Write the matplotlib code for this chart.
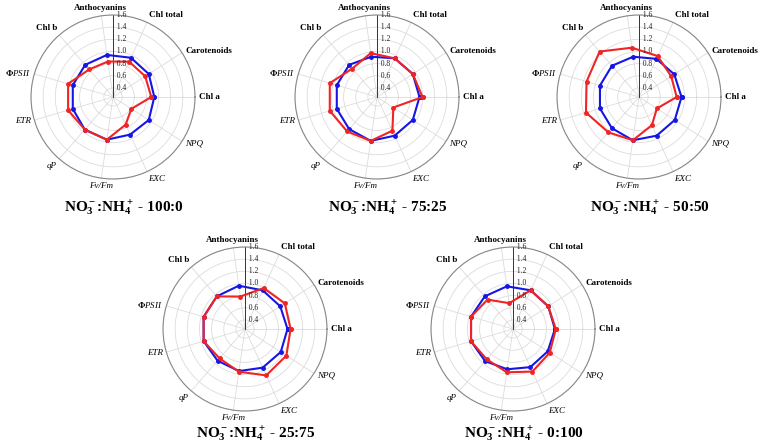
import numpy as np
import matplotlib
matplotlib.use('Agg')
from matplotlib import pyplot as plt

plt.rcParams['font.family'] = 'Liberation Serif'
plt.rcParams['mathtext.fontset'] = 'custom'
plt.rcParams['mathtext.rm'] = 'Liberation Serif:bold'
plt.rcParams['mathtext.it'] = 'Liberation Serif:italic'
plt.rcParams['mathtext.bf'] = 'Liberation Serif:bold'

# variables, counter-clockwise starting at 3 o'clock
variables = ['Chl a', 'Carotenoids', 'Chl total', 'Anthocyanins', 'Chl b',
             r'$\mathit{\Phi PSII}$', 'ETR', 'qP', 'Fv/Fm', 'EXC', 'NPQ']
italic_vars = ['ETR', 'qP', 'Fv/Fm', 'EXC', 'NPQ']

ratios = ['100:0', '75:25', '50:50', '25:75', '0:100']

blue_100_0 = [0.93, 0.95, 0.96, 0.95, 0.95, 0.94, 0.94, 0.96, 0.96, 0.93, 0.95]
red_100_0 = [0.88, 0.88, 0.89, 0.84, 0.85, 1.02, 1.02, 0.96, 0.96, 0.75, 0.61]

blue_75_25 = [0.95, 0.95, 0.95, 0.92, 0.95, 0.94, 0.94, 0.95, 0.98, 0.95, 0.95]
red_75_25 = [1.00, 0.95, 0.95, 0.98, 0.87, 1.06, 1.06, 1.00, 0.98, 0.86, 0.57]

blue_50_50 = [0.95, 0.94, 0.94, 0.92, 0.93, 0.92, 0.92, 0.93, 0.97, 0.95, 0.95]
red_50_50 = [0.87, 0.88, 0.99, 1.07, 1.24, 1.15, 1.16, 1.02, 0.97, 0.76, 0.60]

blue_25_75 = [0.95, 0.94, 0.95, 0.97, 0.96, 0.96, 0.96, 0.94, 0.95, 0.95, 0.95]
red_25_75 = [1.00, 1.03, 0.99, 0.79, 0.96, 0.96, 0.96, 0.89, 0.96, 1.09, 1.06]

blue_0_100 = [0.94, 0.94, 0.95, 0.96, 0.96, 0.97, 0.97, 0.95, 0.92, 0.94, 0.93]
red_0_100 = [0.955, 0.94, 0.95, 0.68, 0.89, 0.97, 0.97, 0.91, 0.97, 1.02, 0.97]

blue_sets = [blue_100_0, blue_75_25, blue_50_50, blue_25_75, blue_0_100]
red_sets = [red_100_0, red_75_25, red_50_50, red_25_75, red_0_100]

rticks = [0.4, 0.6, 0.8, 1.0, 1.2, 1.4, 1.6]
rmin, rmax = 0.25, 1.6

W, H = 771, 445
centers = [(113, 97), (377, 97), (639, 97), (245, 329), (513, 329)]
title_y = [-0.18, -0.18, -0.18, -0.14, -0.14]
R = 82

fig = plt.figure(figsize=(W / 100, H / 100), dpi=100)

theta = np.arange(len(variables)) * 2 * np.pi / len(variables)

for (cx, cy), ty, ratio, blue, red in zip(centers, title_y, ratios, blue_sets, red_sets):
    ax = fig.add_axes([(cx - R) / W, (H - cy - R) / H, 2 * R / W, 2 * R / H],
                      projection='polar')
    ax.set_ylim(rmin, rmax)
    ax.set_xticks(theta)
    ax.set_xticklabels([])
    ax.set_yticks(rticks)
    ax.set_yticklabels([])
    ax.grid(color='#dcdcdc', lw=0.6)
    ax.spines['polar'].set_color('#888888')
    ax.spines['polar'].set_linewidth(0.8)
    ax.tick_params(length=0)

    # radial scale on the vertical axis
    ax.plot([np.pi / 2, np.pi / 2], [rmin, rmax], color='#333333', lw=0.7)
    for v in rticks:
        ax.text(np.pi / 2, v, '  %.1f' % v, ha='left', va='center',
                fontsize=5.5, color='#222222')

    tb = np.append(theta, theta[0])
    ax.plot(tb, blue + blue[:1], color='#1515e6', lw=1.5, marker='o', ms=2.5)
    ax.plot(tb, red + red[:1], color='#f02424', lw=1.5, marker='o', ms=2.5)

    for t, name in zip(theta, variables):
        c, s = np.cos(t), np.sin(t)
        ha = 'left' if c > 0.2 else ('right' if c < -0.2 else 'center')
        va = 'bottom' if s > 0.6 else ('top' if s < -0.6 else 'center')
        style = 'italic' if name in italic_vars else 'normal'
        weight = 'normal' if (name in italic_vars or name.startswith('$')) else 'bold'
        ax.text(t, 1.66, name, ha=ha, va=va, fontsize=6.5,
                fontstyle=style, fontweight=weight, clip_on=False)

    ax.text(0.567, ty, r'NO$_3^-$:NH$_4^+$ - ' + ratio, transform=ax.transAxes,
            ha='center', va='center', fontsize=11, fontweight='bold')

fig.savefig('out.png', dpi=100)
